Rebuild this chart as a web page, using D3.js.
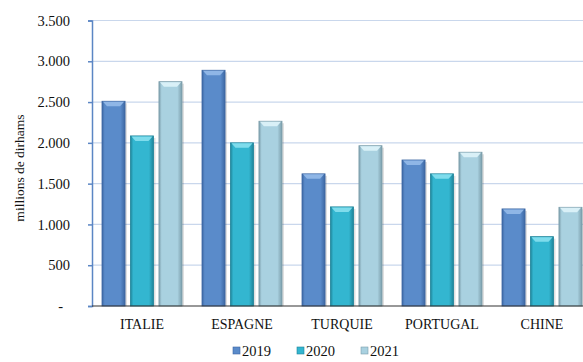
<!DOCTYPE html>
<html>
<head>
<meta charset="utf-8">
<script src="https://cdn.jsdelivr.net/npm/d3@7"></script>
<style>
  html, body { margin: 0; padding: 0; background: #fff; }
  svg { display: block; font-family: "Liberation Serif", "Times New Roman", serif; }
</style>
</head>
<body>
<svg id="chart" width="583" height="362"></svg>
<script>
// data
const countries = ['ITALIE', 'ESPAGNE', 'TURQUIE', 'PORTUGAL', 'CHINE'];
const years = ['2019', '2020', '2021'];
const v2019 = [2510, 2890, 1620, 1790, 1190];
const v2020 = [2085, 2000, 1215, 1620, 850];
const v2021 = [2750, 2265, 1965, 1885, 1210];
const yTicks = [0, 500, 1000, 1500, 2000, 2500, 3000, 3500];
const yTitle = 'millions de dirhams';

const series = {'2019': v2019, '2020': v2020, '2021': v2021};
const data = countries.map((c, i) => ({country: c, values: years.map(y => ({year: y, value: series[y][i]}))}));

const colors = {
  '2019': {mid: '#5a8bca', edge: '#3d67a3', cap: '#8fb6e6'},
  '2020': {mid: '#33b6d0', edge: '#1e8499', cap: '#7fdcec'},
  '2021': {mid: '#a9d1e0', edge: '#7c9eab', cap: '#d9f0f7'}
};

const svg = d3.select('#chart');
const margin = {left: 92, top: 20.5, right: 592, bottom: 306};

const x0 = d3.scaleBand().domain(countries).range([margin.left, margin.right]).paddingInner(0.2).paddingOuter(0.1);
const x1 = d3.scaleBand().domain(years).range([0, x0.bandwidth()]).paddingInner(0.19);
const y = d3.scaleLinear().domain([0, 3500]).range([margin.bottom, margin.top]);

// gradients for the bevelled bars
const defs = svg.append('defs');
years.forEach(yr => {
  const g = defs.append('linearGradient').attr('id', 'g' + yr).attr('x1', 0).attr('x2', 1).attr('y1', 0).attr('y2', 0);
  g.append('stop').attr('offset', '0%').attr('stop-color', colors[yr].edge);
  g.append('stop').attr('offset', '12%').attr('stop-color', colors[yr].mid);
  g.append('stop').attr('offset', '80%').attr('stop-color', colors[yr].mid);
  g.append('stop').attr('offset', '100%').attr('stop-color', colors[yr].edge);
});

// gridlines
svg.append('g').selectAll('line').data(yTicks.filter(d => d > 0)).join('line')
  .attr('x1', margin.left).attr('x2', margin.right)
  .attr('y1', d => y(d)).attr('y2', d => y(d))
  .attr('stroke', '#c9d7ec').attr('stroke-width', 1.2);

// y axis
const yAxis = svg.append('g').attr('transform', `translate(${margin.left},0)`)
  .call(d3.axisLeft(y).tickValues(yTicks).tickSize(4).tickPadding(18)
    .tickFormat(d => d === 0 ? '-' : d3.format(',')(d).replace(/,/g, '.')));
yAxis.select('.domain').attr('stroke', '#5b86c4').attr('stroke-width', 1.5);
yAxis.selectAll('.tick line').attr('stroke', '#5b86c4').attr('stroke-width', 1.5);
yAxis.selectAll('.tick text').attr('font-size', 14.5).attr('fill', '#111').attr('font-family', 'Liberation Serif');
yAxis.selectAll('.tick text').filter(d => d === 0).attr('dx', -7);

// bars
const groups = svg.append('g').selectAll('g').data(data).join('g')
  .attr('transform', d => `translate(${x0(d.country)},0)`);

groups.selectAll('rect.shadow').data(d => d.values).join('rect').attr('class', 'shadow')
  .attr('x', d => x1(d.year) + 2).attr('y', d => y(d.value) + 2)
  .attr('width', x1.bandwidth()).attr('height', d => y(0) - y(d.value) - 2)
  .attr('fill', '#000').attr('opacity', 0.12);

groups.selectAll('rect.bar').data(d => d.values).join('rect').attr('class', 'bar')
  .attr('x', d => x1(d.year)).attr('y', d => y(d.value))
  .attr('width', x1.bandwidth()).attr('height', d => y(0) - y(d.value))
  .attr('fill', d => `url(#g${d.year})`)
  .attr('stroke', d => colors[d.year].edge).attr('stroke-width', 0.8);

groups.selectAll('path.cap').data(d => d.values).join('path').attr('class', 'cap')
  .attr('d', d => {
    const bx = x1(d.year), by = y(d.value), w = x1.bandwidth();
    return `M${bx + 1},${by + 0.5} L${bx + w - 1},${by + 0.5} L${bx + w - 5},${by + 5} L${bx + 5},${by + 5} Z`;
  })
  .attr('fill', d => colors[d.year].cap);

// baseline
svg.append('line').attr('x1', margin.left).attr('x2', margin.right)
  .attr('y1', y(0)).attr('y2', y(0)).attr('stroke', '#333').attr('stroke-width', 1.2);

// category labels
svg.append('g').selectAll('text').data(countries).join('text')
  .attr('x', d => x0(d) + x0.bandwidth() / 2).attr('y', 329)
  .attr('text-anchor', 'middle').attr('font-size', 14).attr('fill', '#111')
  .text(d => d);

// y title
svg.append('text').attr('transform', 'translate(24,168) rotate(-90)')
  .attr('text-anchor', 'middle').attr('font-size', 13.5).attr('fill', '#111')
  .text(yTitle);

// legend
const legend = svg.append('g').selectAll('g').data(years).join('g')
  .attr('transform', (d, i) => `translate(${233 + i * 64},0)`);
legend.append('rect').attr('x', 0).attr('y', 347).attr('width', 7).attr('height', 7)
  .attr('fill', d => colors[d].mid).attr('stroke', d => colors[d].edge).attr('stroke-width', 0.6);
legend.append('text').attr('x', 9).attr('y', 356).attr('font-size', 14.5).attr('fill', '#111').text(d => d);
</script>
</body>
</html>
